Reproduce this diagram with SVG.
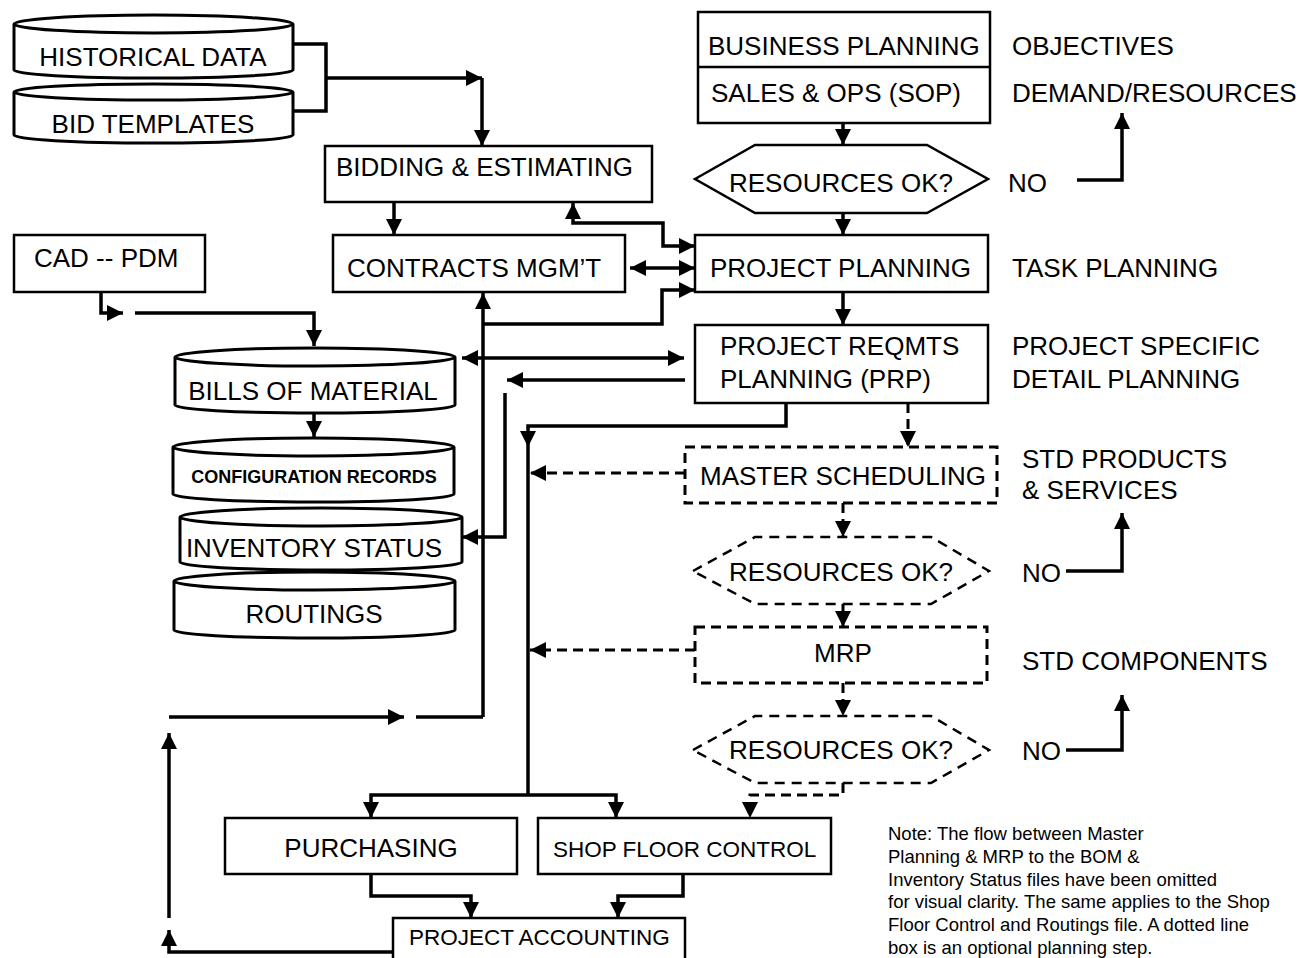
<svg xmlns="http://www.w3.org/2000/svg" width="1312" height="958" viewBox="0 0 1312 958">
  <style>
    .box { fill: #fff; stroke: #000; stroke-width: 2.5; }
    .dbox { fill: #fff; stroke: #000; stroke-width: 3; stroke-dasharray: 10 6; }
    .dhex { fill: #fff; stroke: #000; stroke-width: 2.5; stroke-dasharray: 10 7; }
    .cyl { fill: #fff; stroke: #000; stroke-width: 3; }
    .t { font-family: "Liberation Sans", Arial, sans-serif; font-size: 26px; fill: #000; }
    .ts { font-family: "Liberation Sans", Arial, sans-serif; font-size: 22.5px; fill: #000; }
    .tb { font-family: "Liberation Sans", Arial, sans-serif; font-size: 18px; font-weight: bold; fill: #000; }
    .note { font-family: "Liberation Sans", Arial, sans-serif; font-size: 18.5px; fill: #000; }
    .mid { text-anchor: middle; }
    .ln { fill: none; stroke: #000; stroke-width: 3.5; }
    .dl { fill: none; stroke: #000; stroke-width: 3; stroke-dasharray: 10 6; }
  </style>
  <defs>
    <marker id="ah" viewBox="0 0 16 16" refX="16" refY="8" markerWidth="16" markerHeight="16" markerUnits="userSpaceOnUse" orient="auto-start-reverse">
      <path d="M0,0 L16,8 L0,16 Z" fill="#000"/>
    </marker>
  </defs>
  <rect width="1312" height="958" fill="#fff"/>

  <!-- data files (cylinders) -->
  <g id="historical-data">
    <path class="cyl" d="M14,24 A139.5,9 0 0 1 293,24 A139.5,9 0 0 1 14,24 Z M14,24 V70 A139.5,8 0 0 0 293,70 V24"/>
    <text class="t mid" x="153" y="66">HISTORICAL DATA</text>
  </g>
  <g id="bid-templates">
    <path class="cyl" d="M14,92 A139.5,8 0 0 1 293,92 A139.5,8 0 0 1 14,92 Z M14,92 V135 A139.5,8 0 0 0 293,135 V92"/>
    <text class="t mid" x="153" y="133">BID TEMPLATES</text>
  </g>
  <g id="bills-of-material">
    <path class="cyl" d="M175,357 A140,9 0 0 1 455,357 A140,9 0 0 1 175,357 Z M175,357 V405 A140,8 0 0 0 455,405 V357"/>
    <text class="t mid" x="313" y="400">BILLS OF MATERIAL</text>
  </g>
  <g id="configuration-records">
    <path class="cyl" d="M173,447 A140.5,9 0 0 1 454,447 A140.5,9 0 0 1 173,447 Z M173,447 V494 A140.5,8 0 0 0 454,494 V447"/>
    <text class="tb mid" x="314" y="483">CONFIGURATION RECORDS</text>
  </g>
  <g id="inventory-status">
    <path class="cyl" d="M180,517 A141,9 0 0 1 462,517 A141,9 0 0 1 180,517 Z M180,517 V562 A141,8 0 0 0 462,562 V517"/>
    <text class="t mid" x="314" y="557">INVENTORY STATUS</text>
  </g>
  <g id="routings">
    <path class="cyl" d="M174,581 A140.5,9 0 0 1 455,581 A140.5,9 0 0 1 174,581 Z M174,581 V630 A140.5,8 0 0 0 455,630 V581"/>
    <text class="t mid" x="314" y="623">ROUTINGS</text>
  </g>

  <!-- process boxes -->
  <g id="bidding-estimating">
    <rect class="box" x="325" y="146" width="327" height="56"/>
    <text class="t" x="336" y="176">BIDDING &amp; ESTIMATING</text>
  </g>
  <g id="contracts-mgmt">
    <rect class="box" x="333" y="235" width="292" height="57"/>
    <text class="t" x="347" y="277">CONTRACTS MGM’T</text>
  </g>
  <g id="cad-pdm">
    <rect class="box" x="14" y="235" width="191" height="57"/>
    <text class="t" x="34" y="267">CAD -- PDM</text>
  </g>
  <g id="business-planning">
    <rect class="box" x="698" y="12" width="292" height="111"/>
    <line x1="698" y1="67" x2="990" y2="67" stroke="#000" stroke-width="2.5"/>
    <text class="t" x="708" y="55">BUSINESS PLANNING</text>
    <text class="t" x="711" y="102">SALES &amp; OPS (SOP)</text>
  </g>
  <g id="resources-ok-1">
    <polygon points="695,179 755,145 927,145 988,179 927,213 755,213" fill="#fff" stroke="#000" stroke-width="2.5"/>
    <text class="t" x="729" y="192">RESOURCES OK?</text>
  </g>
  <g id="project-planning">
    <rect class="box" x="695" y="235" width="293" height="57"/>
    <text class="t" x="710" y="277">PROJECT PLANNING</text>
  </g>
  <g id="project-reqmts-planning">
    <rect class="box" x="695" y="325" width="293" height="78"/>
    <text class="t" x="720" y="355">PROJECT REQMTS</text>
    <text class="t" x="720" y="388">PLANNING (PRP)</text>
  </g>
  <g id="master-scheduling">
    <rect class="dbox" x="685" y="447" width="312" height="56"/>
    <text class="t" x="700" y="485">MASTER SCHEDULING</text>
  </g>
  <g id="resources-ok-2">
    <polygon class="dhex" points="693,571 755,537 931,537 989,571 931,604 755,604"/>
    <text class="t" x="729" y="581">RESOURCES OK?</text>
  </g>
  <g id="mrp">
    <rect class="dbox" x="695" y="627" width="292" height="56"/>
    <text class="t mid" x="843" y="662">MRP</text>
  </g>
  <g id="resources-ok-3">
    <polygon class="dhex" points="693,750 755,716 931,716 989,750 931,783 755,783"/>
    <text class="t" x="729" y="759">RESOURCES OK?</text>
  </g>
  <g id="purchasing">
    <rect class="box" x="225" y="818" width="292" height="56"/>
    <text class="t mid" x="371" y="857">PURCHASING</text>
  </g>
  <g id="shop-floor-control">
    <rect class="box" x="538" y="818" width="293" height="56"/>
    <text class="ts" x="553" y="857">SHOP FLOOR CONTROL</text>
  </g>
  <g id="project-accounting">
    <rect class="box" x="393" y="918" width="292" height="60"/>
    <text class="ts" x="409" y="945">PROJECT ACCOUNTING</text>
  </g>

  <!-- side labels -->
  <g id="labels">
    <text class="t" x="1012" y="55">OBJECTIVES</text>
    <text class="t" x="1012" y="102">DEMAND/RESOURCES</text>
    <text class="t" x="1008" y="192">NO</text>
    <text class="t" x="1012" y="277">TASK PLANNING</text>
    <text class="t" x="1012" y="355">PROJECT SPECIFIC</text>
    <text class="t" x="1012" y="388">DETAIL PLANNING</text>
    <text class="t" x="1022" y="468">STD PRODUCTS</text>
    <text class="t" x="1022" y="499">&amp; SERVICES</text>
    <text class="t" x="1022" y="582">NO</text>
    <text class="t" x="1022" y="670">STD COMPONENTS</text>
    <text class="t" x="1022" y="760">NO</text>
  </g>

  <g id="note">
    <text class="note" x="888" y="840">Note: The flow between Master</text>
    <text class="note" x="888" y="863">Planning &amp; MRP to the BOM &amp;</text>
    <text class="note" x="888" y="886">Inventory Status files have been omitted</text>
    <text class="note" x="888" y="908">for visual clarity. The same applies to the Shop</text>
    <text class="note" x="888" y="931">Floor Control and Routings file. A dotted line</text>
    <text class="note" x="888" y="954">box is an optional planning step.</text>
  </g>

  <!-- connectors -->
  <g id="connectors">
    <!-- data files into bidding -->
    <path class="ln" d="M293,44 H326 V111 H293"/>
    <path class="ln" d="M326,78 H482" marker-end="url(#ah)"/>
    <path class="ln" d="M482,78 V146" marker-end="url(#ah)"/>
    <path class="ln" d="M394,202 V235" marker-end="url(#ah)"/>
    <!-- project planning links -->
    <path class="ln" d="M695,246 H663 V223 H573 V203" marker-start="url(#ah)" marker-end="url(#ah)"/>
    <path class="ln" d="M630,268 H695" marker-start="url(#ah)" marker-end="url(#ah)"/>
    <path class="ln" d="M483,324 H662 V290 H695" marker-end="url(#ah)"/>
    <path class="ln" d="M483,717 V293" marker-end="url(#ah)"/>
    <!-- CAD to BOM -->
    <path class="ln" d="M101,292 V313 H123" marker-end="url(#ah)"/>
    <path class="ln" d="M135,313 H314 V346" marker-end="url(#ah)"/>
    <path class="ln" d="M314,413 V437" marker-end="url(#ah)"/>
    <!-- PRP to files -->
    <path class="ln" d="M462,358 H684" marker-start="url(#ah)" marker-end="url(#ah)"/>
    <path class="ln" d="M685,380 H507" marker-end="url(#ah)"/>
    <path class="ln" d="M505,393 V537 H462" marker-end="url(#ah)"/>
    <!-- main planning chain -->
    <path class="ln" d="M843,123 V145" marker-end="url(#ah)"/>
    <path class="ln" d="M843,213 V235" marker-end="url(#ah)"/>
    <path class="ln" d="M843,292 V325" marker-end="url(#ah)"/>
    <path class="ln" d="M1077,180 H1122 V113" marker-end="url(#ah)"/>
    <path class="ln" d="M1066,571 H1122 V513" marker-end="url(#ah)"/>
    <path class="ln" d="M1066,750 H1122 V695" marker-end="url(#ah)"/>
    <!-- PRP down to execution -->
    <path class="ln" d="M786,403 V426 H528 V447" marker-end="url(#ah)"/>
    <path class="ln" d="M528,447 V795"/>
    <path class="ln" d="M528,795 H371 V818" marker-end="url(#ah)"/>
    <path class="ln" d="M528,795 H616 V818" marker-end="url(#ah)"/>
    <!-- optional steps -->
    <path class="dl" d="M908,403 V447" marker-end="url(#ah)"/>
    <path class="dl" d="M685,473 H530" marker-end="url(#ah)"/>
    <path class="dl" d="M843,503 V537" marker-end="url(#ah)"/>
    <path class="dl" d="M843,604 V627" marker-end="url(#ah)"/>
    <path class="dl" d="M695,650 H530" marker-end="url(#ah)"/>
    <path class="dl" d="M843,683 V716" marker-end="url(#ah)"/>
    <path class="dl" d="M843,783 V795 H750 V818" marker-end="url(#ah)"/>
    <!-- execution to accounting -->
    <path class="ln" d="M371,874 V896 H471 V918" marker-end="url(#ah)"/>
    <path class="ln" d="M683,874 V896 H618 V918" marker-end="url(#ah)"/>
    <!-- feedback loop -->
    <path class="ln" d="M393,952 H169 V930" marker-end="url(#ah)"/>
    <path class="ln" d="M169,918 V733" marker-end="url(#ah)"/>
    <path class="ln" d="M169,717 H404" marker-end="url(#ah)"/>
    <path class="ln" d="M416,717 H483"/>
  </g>
</svg>
